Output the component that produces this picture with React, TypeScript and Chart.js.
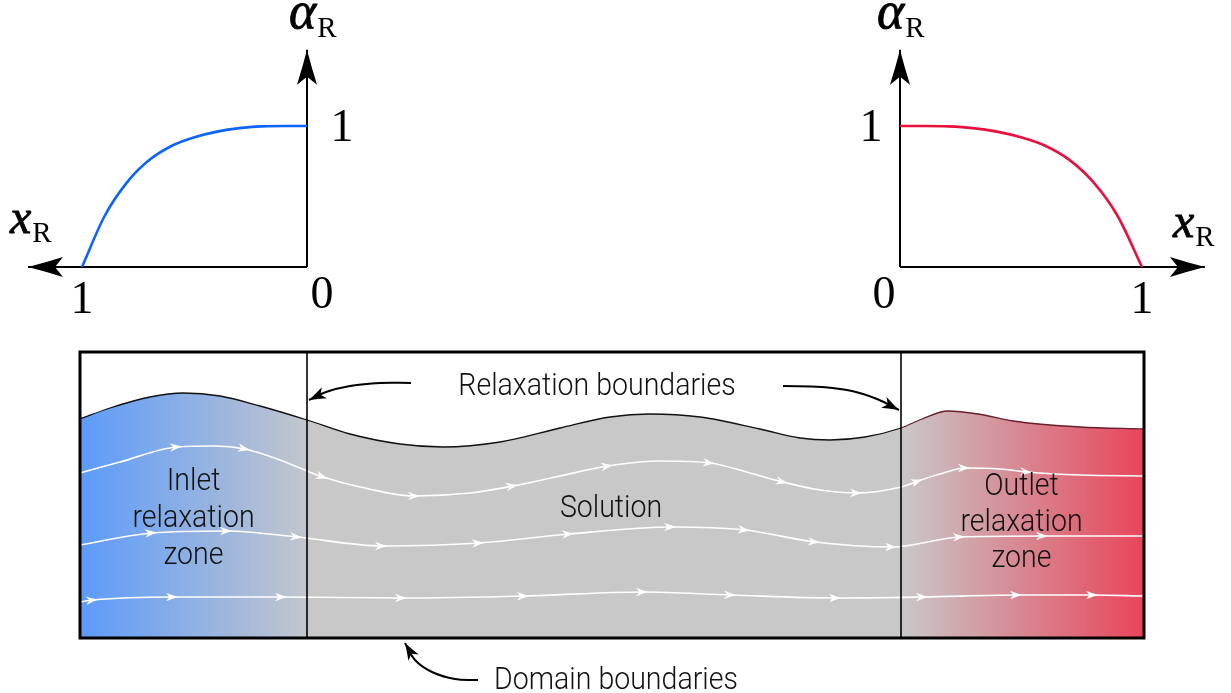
import React, { useEffect, useRef } from "react";
import { Chart, registerables } from "chart.js";

Chart.register(...registerables);

const W = 1231;
const H = 693;

// Relaxation weighting function alpha_R(x_R)
const relaxX = [0, 0.1, 0.2, 0.3, 0.4, 0.5, 0.6, 0.7, 0.8, 0.9, 1.0];
const relaxAlpha = [1.0, 1.0, 0.997, 0.985, 0.96, 0.92, 0.86, 0.76, 0.6, 0.36, 0.0];

// Axis extents of the small plots (in x_R and alpha_R units)
const xAxisEndLeft = 1.24;
const xAxisEndRight = 1.26;
const alphaAxisEnd = 1.54;
const tickLabels = ["0", "1"];

// Numerical domain (drawing units along the flume / elevation)
const domainX = [80, 1144];
const domainY = [352, 638];
const relaxBoundaryX = [307, 901];

// Free surface
const surfaceX = [80, 110, 150, 183, 220, 260, 307, 350, 400, 443, 500, 560, 610, 650, 700, 760, 800, 830, 865, 901, 922, 948, 978, 1013, 1080, 1144];
const surfaceY = [419, 408, 397, 393, 396, 406, 420, 434, 444, 447, 442, 428, 417, 414, 417, 429, 438, 440, 437, 428, 419, 411, 414, 421, 427, 429];

// Streamlines
const stream1X = [80, 120, 177, 215, 245, 280, 307, 323, 360, 415, 470, 513, 560, 608, 660, 710, 750, 783, 820, 857, 901, 918, 940, 965, 1000, 1027, 1080, 1143];
const stream1Y = [473, 462, 447, 446, 449, 460, 471, 477, 487, 496, 493, 486, 476, 466, 461, 463, 473, 482, 490, 493, 487, 481, 474, 468, 469, 472, 475, 476];
const stream1Arrows = [177, 245, 323, 415, 513, 608, 710, 783, 857, 918, 965, 1027];

const stream2X = [80, 152, 227, 297, 382, 479, 569, 671, 745, 815, 892, 960, 1043, 1143];
const stream2Y = [545, 533, 531, 537, 546, 543, 534, 527, 530, 542, 547, 537, 536, 536];
const stream2Arrows = [152, 227, 297, 382, 479, 569, 671, 745, 815, 892, 960, 1043];

const stream3X = [80, 93, 173, 282, 402, 524, 643, 731, 836, 923, 1017, 1093, 1143];
const stream3Y = [602, 600, 597, 597, 598, 596, 592, 595, 598, 597, 595, 595, 596];
const stream3Arrows = [93, 173, 282, 402, 524, 643, 731, 836, 923, 1017, 1093];

// Callout arrows
const calloutLeftX = [411, 380, 350, 326, 309];
const calloutLeftY = [383, 383, 386, 392, 400];
const calloutRightX = [783, 822, 852, 877, 899];
const calloutRightY = [386, 387, 391, 399, 410];
const calloutDomainX = [478, 455, 432, 415, 405];
const calloutDomainY = [680, 679, 672, 660, 643];

// Labels
const relaxLabel = "Relaxation boundaries";
const domainLabel = "Domain boundaries";
const solutionLabel = "Solution";
const inletLabel = ["Inlet", "relaxation", "zone"];
const outletLabel = ["Outlet", "relaxation", "zone"];

// Colours
const BLUE_LINE = "#0a64ff";
const RED_LINE = "#e8103d";
const INLET_COLOR = "#5c9bfa";
const MID_GRAY = "#c8c8c8";
const INLET_END = "#c3c6cd";
const OUTLET_COLOR = "#e8455a";
const OUTLET_SURFACE = "#6a1f2c";

const pts = (xs: number[], ys: number[]) => xs.map((x, i) => ({ x, y: ys[i] }));

// range so that value 0 -> pixel p0, value 1 -> pixel p1 (pixel measured in increasing direction)
function anchored(p0: number, p1: number, size: number) {
  const r = size / (p1 - p0);
  const min = (-p0 * r) / size;
  return { min, max: min + r };
}
function anchoredRev(p0: number, p1: number, size: number) {
  const r = size / (p0 - p1);
  const max = (p0 * r) / size;
  return { min: max - r, max };
}

function arrowHead(ctx: CanvasRenderingContext2D, x: number, y: number, ang: number, spec: number[], color: string) {
  const [len, half, notch] = spec;
  ctx.save();
  ctx.translate(x, y);
  ctx.rotate(ang);
  ctx.fillStyle = color;
  ctx.beginPath();
  ctx.moveTo(0, 0);
  ctx.quadraticCurveTo(-len * 0.5, -half * 0.45, -len, -half);
  ctx.lineTo(-len + notch, 0);
  ctx.lineTo(-len, half);
  ctx.quadraticCurveTo(-len * 0.5, half * 0.45, 0, 0);
  ctx.closePath();
  ctx.fill();
  ctx.restore();
}

const SANS = '300 31px Roboto, "Noto Sans", sans-serif';
const CONDENSE = 0.92;

function sansText(ctx: CanvasRenderingContext2D, t: string, cx: number, base: number) {
  ctx.save();
  ctx.font = SANS;
  ctx.fillStyle = "#111";
  ctx.textAlign = "center";
  ctx.textBaseline = "alphabetic";
  ctx.translate(cx, base);
  ctx.scale(CONDENSE, 1);
  ctx.fillText(t, 0, 0);
  ctx.restore();
}

const SERIF = '"Liberation Serif", "DejaVu Serif", serif';
const MATH_RM = '46px ' + SERIF;
const MATH_SUB = '29px ' + SERIF;

function mathLabel(ctx: CanvasRenderingContext2D, main: string, sub: string, size: number, left: number, base: number) {
  ctx.save();
  ctx.fillStyle = "#000";
  ctx.strokeStyle = "#000";
  ctx.lineWidth = 0.8;
  ctx.textAlign = "left";
  ctx.textBaseline = "alphabetic";
  ctx.font = "italic " + size + "px " + SERIF;
  ctx.fillText(main, left, base);
  ctx.strokeText(main, left, base);
  const w = ctx.measureText(main).width;
  ctx.font = MATH_SUB;
  ctx.fillText(sub, left + w + 1, base + 9);
  ctx.restore();
}
function digit(ctx: CanvasRenderingContext2D, t: string, cx: number, base: number) {
  ctx.save();
  ctx.fillStyle = "#000";
  ctx.font = MATH_RM;
  ctx.textAlign = "center";
  ctx.textBaseline = "alphabetic";
  ctx.fillText(t, cx, base);
  ctx.restore();
}

const diagramPlugin = {
  id: "diagram",
  afterDatasetsDraw(chart: any) {
    const ctx: CanvasRenderingContext2D = chart.ctx;
    const sx = chart.scales.x;
    const sy = chart.scales.y;
    const px = (v: number) => sx.getPixelForValue(v);
    const py = (v: number) => sy.getPixelForValue(v);

    // domain box and relaxation boundaries
    ctx.save();
    ctx.strokeStyle = "#000";
    ctx.lineWidth = 1.6;
    relaxBoundaryX.forEach((x) => {
      ctx.beginPath();
      ctx.moveTo(px(x), py(domainY[0]));
      ctx.lineTo(px(x), py(domainY[1]));
      ctx.stroke();
    });
    ctx.lineWidth = 3;
    ctx.strokeRect(px(domainX[0]), py(domainY[0]), px(domainX[1]) - px(domainX[0]), py(domainY[1]) - py(domainY[0]));
    ctx.restore();

    // arrowheads
    chart.data.datasets.forEach((ds: any, i: number) => {
      const meta = chart.getDatasetMeta(i);
      const el = meta.data as any[];
      if (ds.arrowEnd) {
        const b = el[el.length - 1];
        const a = el[el.length - 2];
        let ang = Math.atan2(b.y - a.y, b.x - a.x);
        if (b.cp1x !== undefined && (b.cp1x !== b.x || b.cp1y !== b.y)) ang = Math.atan2(b.y - b.cp1y, b.x - b.cp1x);
        arrowHead(ctx, b.x, b.y, ang, ds.arrowEnd, ds.arrowColor || ds.borderColor);
      }
      if (ds.arrowsAt) {
        ds.arrowsAt.forEach((ax: number) => {
          const k = ds.data.findIndex((d: any) => d.x === ax);
          if (k <= 0 || k >= el.length - 1) return;
          const c = el[k];
          let ang = Math.atan2(el[k + 1].y - el[k - 1].y, el[k + 1].x - el[k - 1].x);
          if (c.cp1x !== undefined && c.cp2x !== c.cp1x) ang = Math.atan2(c.cp2y - c.cp1y, c.cp2x - c.cp1x);
          arrowHead(ctx, c.x + 5 * Math.cos(ang), c.y + 5 * Math.sin(ang), ang, [12, 4.3, 3.5], "#ffffff");
        });
      }
    });

    // small plots: axis labels and ticks
    const xl = chart.scales.xl;
    const xr = chart.scales.xr;
    const ya = chart.scales.ya;
    mathLabel(ctx, "α", "R", 52, xl.getPixelForValue(0) - 18, ya.getPixelForValue(alphaAxisEnd) - 22);
    mathLabel(ctx, "x", "R", 48, xl.getPixelForValue(xAxisEndLeft) - 18, ya.getPixelForValue(0) - 34);
    mathLabel(ctx, "α", "R", 52, xr.getPixelForValue(0) - 23, ya.getPixelForValue(alphaAxisEnd) - 22);
    mathLabel(ctx, "x", "R", 48, xr.getPixelForValue(xAxisEndRight) - 32, ya.getPixelForValue(0) - 30);

    digit(ctx, tickLabels[1], xl.getPixelForValue(1), ya.getPixelForValue(0) + 46);
    digit(ctx, tickLabels[0], xl.getPixelForValue(0) + 15, ya.getPixelForValue(0) + 41);
    digit(ctx, tickLabels[1], xl.getPixelForValue(0) + 35, ya.getPixelForValue(1) + 15);
    digit(ctx, tickLabels[1], xr.getPixelForValue(0) - 29, ya.getPixelForValue(1) + 15);
    digit(ctx, tickLabels[0], xr.getPixelForValue(0) - 16, ya.getPixelForValue(0) + 41);
    digit(ctx, tickLabels[1], xr.getPixelForValue(1), ya.getPixelForValue(0) + 46);

    // domain labels
    sansText(ctx, relaxLabel, px(597), py(395));
    sansText(ctx, solutionLabel, px(611), py(517));
    sansText(ctx, domainLabel, px(616), py(689));
    const inletCx = (domainX[0] + relaxBoundaryX[0]) / 2;
    const outletCx = (relaxBoundaryX[1] + domainX[1]) / 2 - 1;
    inletLabel.forEach((t, i) => sansText(ctx, t, px(inletCx), py(490 + i * 37)));
    outletLabel.forEach((t, i) => sansText(ctx, t, px(outletCx), py(495 + i * 36)));
  },
};

export default function App() {
  const ref = useRef<HTMLCanvasElement | null>(null);

  useEffect(() => {
    if (!ref.current) return;
    const xlRange = anchoredRev(307, 82, W);
    const xrRange = anchored(900, 1142, W);
    const yaRange = anchored(H - 267, H - 126, H);

    const relaxLeft = relaxX.map((x, i) => ({ x, y: relaxAlpha[i] })).reverse();
    const relaxRight = relaxX.map((x, i) => ({ x, y: relaxAlpha[i] }));

    const surfaceFill = (c: any) => {
      const chart = c.chart;
      const { ctx, chartArea, scales } = chart;
      if (!chartArea) return MID_GRAY;
      const x0 = scales.x.getPixelForValue(domainX[0]);
      const x1 = scales.x.getPixelForValue(domainX[1]);
      const f = (v: number) => (scales.x.getPixelForValue(v) - x0) / (x1 - x0);
      const g = ctx.createLinearGradient(x0, 0, x1, 0);
      g.addColorStop(0, INLET_COLOR);
      g.addColorStop(f(relaxBoundaryX[0]), INLET_END);
      g.addColorStop(f(relaxBoundaryX[0]) + 0.001, MID_GRAY);
      g.addColorStop(f(relaxBoundaryX[1]), MID_GRAY);
      g.addColorStop(1, OUTLET_COLOR);
      return g;
    };

    const streamStyle = {
      showLine: true,
      borderColor: "#ffffff",
      borderWidth: 1.6,
      pointRadius: 0,
      cubicInterpolationMode: "monotone",
      xAxisID: "x",
      yAxisID: "y",
      order: 5,
    };
    const calloutStyle = {
      showLine: true,
      borderColor: "#000",
      borderWidth: 2,
      pointRadius: 0,
      tension: 0.4,
      xAxisID: "x",
      yAxisID: "y",
      order: 2,
      arrowEnd: [17, 6, 4.5],
    };
    const axisStyle = {
      showLine: true,
      borderColor: "#000",
      borderWidth: 2,
      pointRadius: 0,
      yAxisID: "ya",
      order: 3,
      arrowEnd: [35, 10, 8],
    };

    const chart = new Chart(ref.current, {
      type: "scatter",
      data: {
        datasets: [
          {
            label: "alpha left",
            data: relaxLeft,
            showLine: true,
            borderColor: BLUE_LINE,
            borderWidth: 2.6,
            pointRadius: 0,
            cubicInterpolationMode: "monotone",
            xAxisID: "xl",
            yAxisID: "ya",
            order: 1,
          },
          {
            label: "alpha right",
            data: relaxRight,
            showLine: true,
            borderColor: RED_LINE,
            borderWidth: 2.6,
            pointRadius: 0,
            cubicInterpolationMode: "monotone",
            xAxisID: "xr",
            yAxisID: "ya",
            order: 1,
          },
          { ...axisStyle, label: "xl axis", xAxisID: "xl", data: [{ x: 0, y: 0 }, { x: xAxisEndLeft, y: 0 }] },
          { ...axisStyle, label: "yl axis", xAxisID: "xl", data: [{ x: 0, y: 0 }, { x: 0, y: alphaAxisEnd }] },
          { ...axisStyle, label: "xr axis", xAxisID: "xr", data: [{ x: 0, y: 0 }, { x: xAxisEndRight, y: 0 }] },
          { ...axisStyle, label: "yr axis", xAxisID: "xr", data: [{ x: 0, y: 0 }, { x: 0, y: alphaAxisEnd }] },
          {
            label: "free surface",
            data: pts(surfaceX, surfaceY),
            showLine: true,
            borderWidth: 1.3,
            borderColor: "#111",
            segment: {
              borderColor: (s: any) => (s.p0.parsed.x >= relaxBoundaryX[1] ? OUTLET_SURFACE : "#111"),
            },
            backgroundColor: surfaceFill,
            fill: { value: domainY[1] },
            pointRadius: 0,
            cubicInterpolationMode: "monotone",
            xAxisID: "x",
            yAxisID: "y",
            order: 10,
          },
          { ...streamStyle, label: "stream 1", data: pts(stream1X, stream1Y), arrowsAt: stream1Arrows },
          { ...streamStyle, label: "stream 2", data: pts(stream2X, stream2Y), arrowsAt: stream2Arrows },
          { ...streamStyle, label: "stream 3", data: pts(stream3X, stream3Y), arrowsAt: stream3Arrows },
          { ...calloutStyle, label: "callout left", data: pts(calloutLeftX, calloutLeftY) },
          { ...calloutStyle, label: "callout right", data: pts(calloutRightX, calloutRightY) },
          { ...calloutStyle, label: "callout domain", data: pts(calloutDomainX, calloutDomainY) },
        ] as any,
      },
      options: {
        responsive: false,
        animation: false,
        devicePixelRatio: 1,
        events: [],
        layout: { padding: 0 },
        plugins: {
          legend: { display: false },
          tooltip: { enabled: false },
          title: { display: false },
        },
        scales: {
          x: { type: "linear", display: false, min: 0, max: W },
          y: { type: "linear", display: false, min: 0, max: H, reverse: true },
          xl: { type: "linear", display: false, reverse: true, min: xlRange.min, max: xlRange.max },
          xr: { type: "linear", display: false, min: xrRange.min, max: xrRange.max },
          ya: { type: "linear", display: false, min: yaRange.min, max: yaRange.max },
        },
      } as any,
      plugins: [diagramPlugin],
    });
    return () => chart.destroy();
  }, []);

  return (
    <div style={{ position: "absolute", left: 0, top: 0, width: W, height: H, background: "#fff" }}>
      <canvas ref={ref} width={W} height={H} style={{ width: W, height: H, display: "block" }} />
    </div>
  );
}
